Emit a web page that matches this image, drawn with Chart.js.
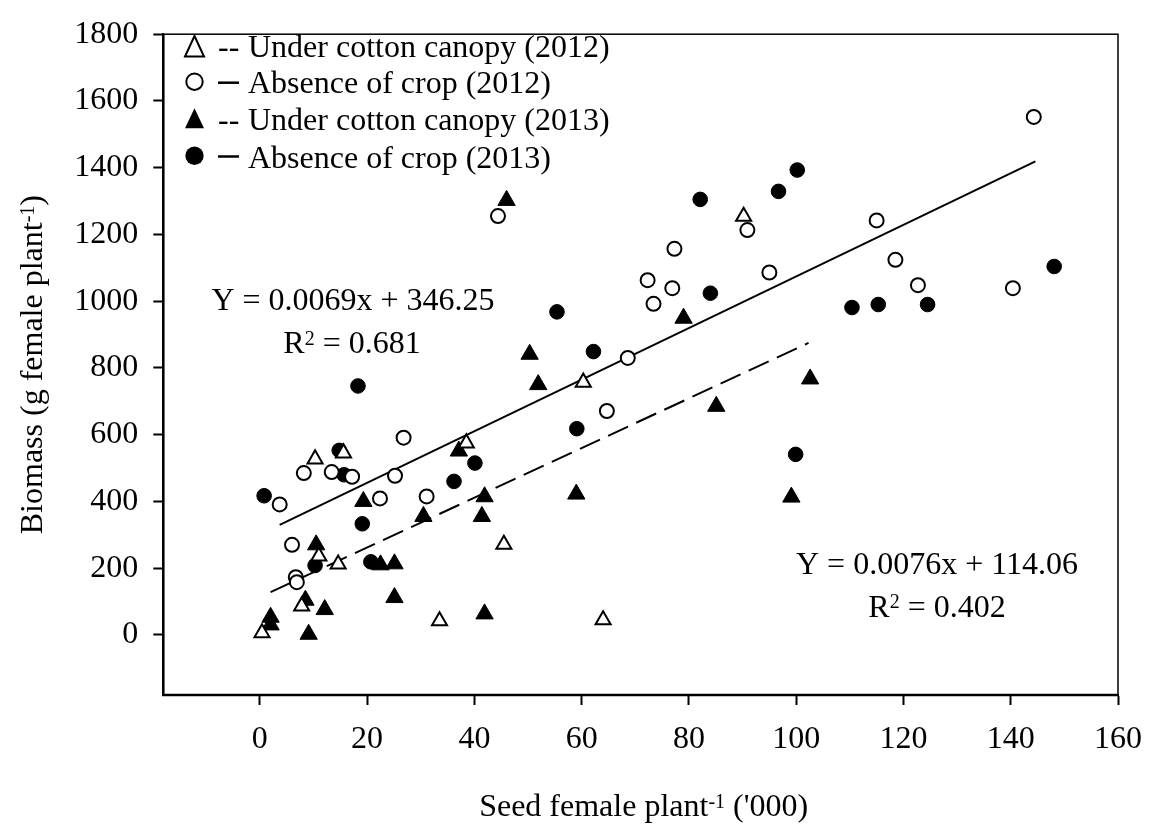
<!DOCTYPE html>
<html><head><meta charset="utf-8">
<script src="https://cdn.jsdelivr.net/npm/chart.js@4"></script>
<style>html,body{margin:0;padding:0;background:#fff;} canvas{display:block;}</style>
</head><body>
<canvas id="c" width="1157" height="827"></canvas>
<script>
// ---------- data ----------
const xTicks = [0, 20, 40, 60, 80, 100, 120, 140, 160];
const yTicks = [0, 200, 400, 600, 800, 1000, 1200, 1400, 1600, 1800];

const canopy2012 = [ // open triangles
  [0.4, 6], [7.8, 86], [11.0, 236], [14.6, 212], [10.3, 527], [15.6, 545],
  [38.5, 575], [45.5, 271], [33.5, 42], [64.0, 45], [60.3, 757], [90.2, 1254]
];
const absence2012 = [ // open circles
  [3.7, 391], [8.2, 485], [13.4, 488], [17.2, 474], [6.0, 270], [6.7, 173], [6.9, 158],
  [22.4, 409], [25.2, 477], [26.8, 591], [31.1, 415], [64.7, 671], [44.4, 1255],
  [68.6, 830], [72.3, 1063], [73.4, 992], [76.9, 1039], [77.3, 1157], [90.9, 1213],
  [95.0, 1086], [115.0, 1242], [118.5, 1124], [122.7, 1048], [140.4, 1039], [144.3, 1552]
];
const canopy2013 = [ // filled triangles
  [2.0, 53], [2.0, 30], [8.5, 104], [9.1, 2], [10.5, 270], [12.1, 76], [19.3, 400],
  [22.5, 210], [25.1, 213], [25.1, 112], [30.5, 355], [37.1, 551], [41.4, 355],
  [41.9, 414], [41.9, 63], [46.0, 1302], [50.3, 841], [51.9, 750], [59.0, 422],
  [79.0, 949], [85.1, 685], [99.1, 413], [102.6, 767]
];
const absence2013 = [ // filled circles
  [0.8, 417], [10.3, 208], [14.8, 553], [15.7, 480], [18.3, 746], [19.1, 333], [20.7, 219],
  [36.2, 460], [40.1, 515], [55.4, 968], [59.1, 618], [62.2, 849], [82.1, 1305],
  [84.0, 1024], [96.7, 1329], [100.2, 1393], [99.9, 541], [110.4, 981], [115.3, 990],
  [124.5, 990], [148.1, 1104]
];
const fitAbsence = [[3.7, 330], [144.6, 1419]];   // solid regression line
const fitCanopy = [[2.0, 128], [102.3, 875]];     // dashed regression line

const legendLabels = [
  'Under cotton canopy (2012)', 'Absence of crop (2012)',
  'Under cotton canopy (2013)', 'Absence of crop (2013)'
];
const eqAbsence = ['Y = 0.0069x + 346.25', '0.681'];
const eqCanopy = ['Y = 0.0076x + 114.06', '0.402'];
const xTitle = ['Seed female plant', '-1', " ('000)"];
const yTitle = ['Biomass (g female plant', '-1', ')'];

// ---------- rendering ----------
const FONT = '"Liberation Serif", "Times New Roman", serif';
const pts = a => a.map(([x, y]) => ({x, y}));

function drawRich(ctx, parts, x, y, size, align) {
  const sup = Math.round(size * 0.62);
  const ws = parts.map(([t, s]) => { ctx.font = (s ? sup : size) + 'px ' + FONT; return ctx.measureText(t).width; });
  const total = ws.reduce((a, b) => a + b, 0);
  let cx = align === 'center' ? x - total / 2 : (align === 'right' ? x - total : x);
  ctx.textAlign = 'left';
  ctx.textBaseline = 'alphabetic';
  parts.forEach(([t, s], i) => {
    ctx.font = (s ? sup : size) + 'px ' + FONT;
    ctx.fillText(t, cx, s ? y - size * 0.26 : y);
    cx += ws[i];
  });
}

const decor = {
  id: 'decor',
  afterDraw(chart) {
    const {ctx, chartArea: a} = chart;
    ctx.save();
    ctx.strokeStyle = '#000';
    ctx.fillStyle = '#000';
    // frame
    ctx.lineWidth = 1.5;
    ctx.strokeRect(a.left, a.top, a.right - a.left, a.bottom - a.top);
    ctx.lineWidth = 2.5;
    ctx.beginPath();
    ctx.moveTo(a.left, a.top); ctx.lineTo(a.left, a.bottom); ctx.lineTo(a.right, a.bottom);
    ctx.stroke();

    // legend
    const rows = [
      {m: 'triO', cy: 46.5, top: 36, bot: 56.5, dash: '--', base: 56.7},
      {m: 'cirO', cy: 81.7, dash: 'line', ly: 82.7, base: 93.3},
      {m: 'triF', cy: 118.3, top: 108.3, bot: 128.3, dash: '--', base: 130},
      {m: 'cirF', cy: 155.8, dash: 'line', ly: 156.5, base: 167.7}
    ];
    rows.forEach((r, i) => {
      const mx = 194.5;
      ctx.lineWidth = 2;
      if (r.m.startsWith('tri')) {
        ctx.beginPath();
        ctx.moveTo(mx, r.top); ctx.lineTo(mx + 9.5, r.bot); ctx.lineTo(mx - 9.5, r.bot); ctx.closePath();
        if (r.m === 'triF') ctx.fill(); else ctx.stroke();
      } else {
        ctx.beginPath();
        if (r.m === 'cirF') { ctx.arc(mx, r.cy, 9.2, 0, Math.PI * 2); ctx.fill(); }
        else { ctx.arc(mx, r.cy, 8.2, 0, Math.PI * 2); ctx.stroke(); }
      }
      ctx.font = '32px ' + FONT;
      ctx.textAlign = 'left'; ctx.textBaseline = 'alphabetic';
      if (r.dash === '--') ctx.fillText('--', 218, r.base);
      else { ctx.lineWidth = 2.5; ctx.beginPath(); ctx.moveTo(218, r.ly); ctx.lineTo(239, r.ly); ctx.stroke(); }
      ctx.fillText(legendLabels[i], 248, r.base);
    });

    // regression equations
    ctx.font = '32px ' + FONT; ctx.textAlign = 'center'; ctx.textBaseline = 'alphabetic';
    ctx.fillText(eqAbsence[0], 353, 310);
    drawRich(ctx, [['R', false], ['2', true], [' = ' + eqAbsence[1], false]], 352, 353.3, 32, 'center');
    ctx.font = '32px ' + FONT; ctx.textAlign = 'center';
    ctx.fillText(eqCanopy[0], 937, 573.5);
    drawRich(ctx, [['R', false], ['2', true], [' = ' + eqCanopy[1], false]], 937, 616.7, 32, 'center');

    // axis titles
    drawRich(ctx, [[xTitle[0], false], [xTitle[1], true], [xTitle[2], false]], (a.left + a.right) / 2 + 3, 816, 32, 'center');
    ctx.save();
    ctx.translate(42, (a.top + a.bottom) / 2);
    ctx.rotate(-Math.PI / 2);
    drawRich(ctx, [[yTitle[0], false], [yTitle[1], true], [yTitle[2], false]], 0, 0, 32, 'center');
    ctx.restore();
    ctx.restore();
  }
};

const tickFont = {family: FONT, size: 32, lineHeight: 1.2};
const axisGrid = {display: true, drawOnChartArea: false, drawTicks: true, tickLength: 10, tickWidth: 2, tickColor: '#000', color: '#000'};

new Chart(document.getElementById('c'), {
  type: 'scatter',
  data: {
    datasets: [
      {label: 'fitAbsence', type: 'line', data: pts(fitAbsence), borderColor: '#000', borderWidth: 2,
       pointRadius: 0, fill: false, tension: 0, order: 5},
      {label: 'fitCanopy', type: 'line', data: pts(fitCanopy), borderColor: '#000', borderWidth: 2,
       borderDash: [22, 9], pointRadius: 0, fill: false, tension: 0, order: 5},
      {label: legendLabels[0], data: pts(canopy2012), pointStyle: 'triangle', pointRadius: 8.7,
       backgroundColor: '#fff', borderColor: '#000', borderWidth: 2, order: 1},
      {label: legendLabels[1], data: pts(absence2012), pointStyle: 'circle', pointRadius: 7,
       backgroundColor: '#fff', borderColor: '#000', borderWidth: 2, order: 2},
      {label: legendLabels[2], data: pts(canopy2013), pointStyle: 'triangle', pointRadius: 10,
       backgroundColor: '#000', borderColor: '#000', borderWidth: 1, order: 3},
      {label: legendLabels[3], data: pts(absence2013), pointStyle: 'circle', pointRadius: 7.3,
       backgroundColor: '#000', borderColor: '#000', borderWidth: 1, order: 4}
    ]
  },
  options: {
    responsive: false,
    devicePixelRatio: 1,
    animation: false,
    layout: {padding: {left: 0, top: 22.7, right: 30, bottom: 0}},
    plugins: {legend: {display: false}, tooltip: {enabled: false}},
    scales: {
      x: {
        type: 'linear', min: -18, max: 160,
        grid: axisGrid,
        border: {display: true, color: '#000', width: 2},
        ticks: {font: tickFont, color: '#000', padding: 15, maxRotation: 0, callback: v => String(v)},
        afterBuildTicks: s => { s.ticks = xTicks.map(v => ({value: v})); },
        afterFit: s => { s.height = 132; }
      },
      y: {
        type: 'linear', min: -180, max: 1800,
        grid: axisGrid,
        border: {display: true, color: '#000', width: 2},
        ticks: {font: tickFont, color: '#000', padding: 15, callback: v => String(v)},
        afterBuildTicks: s => { s.ticks = yTicks.map(v => ({value: v})); },
        afterFit: s => { s.width = 163.3; }
      }
    }
  },
  plugins: [decor]
});
</script>
</body></html>
